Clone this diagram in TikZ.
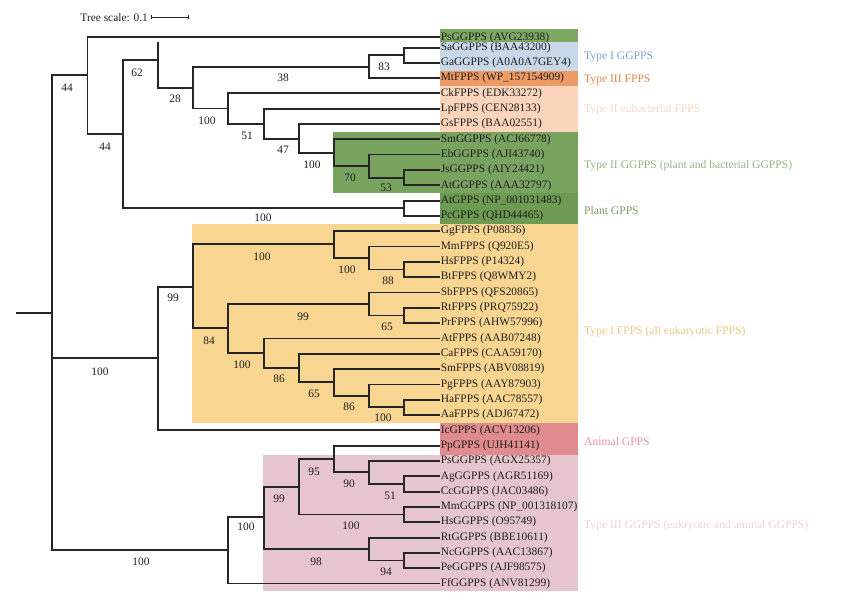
\documentclass[tikz,border=0pt]{standalone}
\usepackage{fontspec}
\setmainfont{Liberation Serif}
\definecolor{treeline}{HTML}{262626}
\definecolor{txt}{HTML}{1E1E1E}
\definecolor{gA}{HTML}{7DA962}
\definecolor{gB}{HTML}{78A45F}
\definecolor{gC}{HTML}{6C9B51}
\definecolor{blu}{HTML}{C9D8E8}
\definecolor{org}{HTML}{EE9A64}
\definecolor{pch}{HTML}{FAD5BC}
\definecolor{yel}{HTML}{F8D692}
\definecolor{red}{HTML}{E08B8D}
\definecolor{pnk}{HTML}{E6C5CE}
\definecolor{lblu}{HTML}{7F9FCF}
\definecolor{lorg}{HTML}{E0854A}
\definecolor{lpch}{HTML}{F8D6C2}
\definecolor{lgB}{HTML}{93B587}
\definecolor{lgC}{HTML}{78A060}
\definecolor{lyel}{HTML}{EDC785}
\definecolor{lred}{HTML}{E2949A}
\definecolor{lpnk}{HTML}{EFD1DA}
\tikzset{
  br/.style={draw=treeline, line width=1.8pt},
  leaf/.style={anchor=west, inner sep=0.6pt, text=txt, font=\fontsize{11.4}{13}\selectfont},
  boot/.style={inner sep=0pt, text=txt, font=\fontsize{11.4}{13}\selectfont},
  grp/.style={anchor=west, inner sep=0pt, font=\fontsize{11.6}{13}\selectfont},
}
\newcommand\lf[3]{\node[leaf] (#1) at (440,#2) {#3};}
\begin{document}
\begin{tikzpicture}[x=1pt,y=-1pt]
\useasboundingbox (0,0) rectangle (846,607);
% background boxes
\fill[gA] (440,29.5) rectangle (578,42);
\fill[blu] (440,42) rectangle (578,71);
\fill[org] (440,71) rectangle (578,86);
\fill[pch] (440,86) rectangle (578,132);
\fill[gB] (333,132) rectangle (578,193);
\fill[gC] (440,193) rectangle (578,224);
\fill[yel] (192,224) rectangle (578,423);
\fill[red] (440,423) rectangle (578,454.5);
\fill[pnk] (263,454.5) rectangle (578,591);
% scale
\node[boot, anchor=east] (scl) at (148,18) {Tree scale: 0.1};
\coordinate (s1) at (151,17);
\coordinate (s2) at (188,17);
\draw[treeline, line width=0.9pt] (s1) -- (s2);
\draw[treeline, line width=0.9pt] ([yshift=-2pt]s1) -- ([yshift=2pt]s1);
\draw[treeline, line width=0.9pt] ([yshift=-2pt]s2) -- ([yshift=2pt]s2);
% leaves
\lf{Ps1}{37.3}{PsGGPPS (AVG23938)}
\lf{Sa}{47.7}{SaGGPPS (BAA43200)}
\lf{Ga}{62.7}{GaGGPPS (A0A0A7GEY4)}
\lf{Mt}{78.0}{MtFPPS (WP\_157154909)}
\lf{Ck}{93.3}{CkFPPS (EDK33272)}
\lf{Lp}{108.7}{LpFPPS (CEN28133)}
\lf{Gs}{124.0}{GsFPPS (BAA02551)}
\lf{SmG}{139.3}{SmGGPPS (ACJ66778)}
\lf{Eb}{154.6}{EbGGPPS (AJI43740)}
\lf{Js}{169.9}{JsGGPPS (AIY24421)}
\lf{AtG}{185.3}{AtGGPPS (AAA32797)}
\lf{AtP}{200.6}{AtGPPS (NP\_001031483)}
\lf{Pc}{215.9}{PcGPPS (QHD44465)}
\lf{Gg}{231.2}{GgFPPS (P08836)}
\lf{MmF}{246.5}{MmFPPS (Q920E5)}
\lf{HsF}{261.9}{HsFPPS (P14324)}
\lf{Bt}{277.2}{BtFPPS (Q8WMY2)}
\lf{Sb}{292.5}{SbFPPS (QFS20865)}
\lf{RtF}{307.8}{RtFPPS (PRQ75922)}
\lf{Pr}{323.1}{PrFPPS (AHW57996)}
\lf{AtF}{338.4}{AtFPPS (AAB07248)}
\lf{Ca}{353.8}{CaFPPS (CAA59170)}
\lf{SmF}{369.1}{SmFPPS (ABV08819)}
\lf{Pg}{384.4}{PgFPPS (AAY87903)}
\lf{Ha}{399.7}{HaFPPS (AAC78557)}
\lf{Aa}{415.0}{AaFPPS (ADJ67472)}
\lf{Ic}{430.3}{IcGPPS (ACV13206)}
\lf{Pp}{445.7}{PpGPPS (UJH41141)}
\lf{Ps2}{461.0}{PsGGPPS (AGX25357)}
\lf{Ag}{476.3}{AgGGPPS (AGR51169)}
\lf{Cc}{491.6}{CcGGPPS (JAC03486)}
\lf{MmG}{506.9}{MmGGPPS (NP\_001318107)}
\lf{HsG}{522.2}{HsGGPPS (O95749)}
\lf{RtG}{537.6}{RtGGPPS (BBE10611)}
\lf{Nc}{552.9}{NcGGPPS (AAC13867)}
\lf{Pe}{568.2}{PeGGPPS (AJF98575)}
\lf{Ff}{583.5}{FfGGPPS (ANV81299)}
% internal nodes
\coordinate (R0) at (16,313);
\coordinate (R) at (52,313);
\coordinate (nT) at (87.5,75);
\coordinate (nA) at (122.7,134);
\coordinate (nB) at (157.7,60);
\coordinate (nBs) at (157.7,42);
\coordinate (nC) at (192.7,88);
\coordinate (nD) at (369.3,66.7);
\coordinate (nSG) at (404.3,55.2);
\coordinate (nE) at (228.3,108.5);
\coordinate (nF) at (263.7,124);
\coordinate (nG) at (299,138.7);
\coordinate (nH) at (334.3,153);
\coordinate (nI) at (369.3,166.2);
\coordinate (nJ) at (404.3,177.6);
\coordinate (nPl) at (404.3,208.2);
\coordinate (nM) at (157.7,358.3);
\coordinate (nFP) at (192.7,286.7);
\coordinate (nK) at (334.3,244.3);
\coordinate (nK2) at (369.3,258.2);
\coordinate (nK3) at (404.3,269.5);
\coordinate (nL) at (228.3,328.3);
\coordinate (nL1) at (369.3,304);
\coordinate (nL1b) at (404.3,315.5);
\coordinate (nL2) at (263.7,353.3);
\coordinate (nL3) at (299,367.7);
\coordinate (nL4) at (334.3,382.3);
\coordinate (nL5) at (369.3,395.7);
\coordinate (nL6) at (404.3,407.3);
\coordinate (nBot) at (228.3,550.3);
\coordinate (nN) at (263.7,517.3);
\coordinate (nO) at (299,486.7);
\coordinate (nQ) at (334.3,459);
\coordinate (nS) at (369.3,472.3);
\coordinate (nS2) at (404.3,484);
\coordinate (nR) at (404.3,514.5);
\coordinate (nP) at (369.3,548.7);
\coordinate (nP2) at (404.3,560.5);
% branches
\draw[br] (R0) -- (R);
\draw[br] (R) |- (nT); \draw[br] (R) |- (nM); \draw[br] (R) |- (nBot);
\draw[br] (nT) |- (Ps1.west); \draw[br] (nT) |- (nA);
\draw[br] (nA) |- (nB); \draw[br] (nA) |- (nPl);
\draw[br] (nB) -- (nBs); \draw[br] (nB) |- (nC);
\draw[br] (nC) |- (nD); \draw[br] (nC) |- (nE);
\draw[br] (nD) |- (nSG); \draw[br] (nD) |- (Mt.west);
\draw[br] (nSG) |- (Sa.west); \draw[br] (nSG) |- (Ga.west);
\draw[br] (nE) |- (Ck.west); \draw[br] (nE) |- (nF);
\draw[br] (nF) |- (Lp.west); \draw[br] (nF) |- (nG);
\draw[br] (nG) |- (Gs.west); \draw[br] (nG) |- (nH);
\draw[br] (nH) |- (SmG.west); \draw[br] (nH) |- (nI);
\draw[br] (nI) |- (Eb.west); \draw[br] (nI) |- (nJ);
\draw[br] (nJ) |- (Js.west); \draw[br] (nJ) |- (AtG.west);
\draw[br] (nPl) |- (AtP.west); \draw[br] (nPl) |- (Pc.west);
\draw[br] (nM) |- (nFP); \draw[br] (nM) |- (Ic.west);
\draw[br] (nFP) |- (nK); \draw[br] (nFP) |- (nL);
\draw[br] (nK) |- (Gg.west); \draw[br] (nK) |- (nK2);
\draw[br] (nK2) |- (MmF.west); \draw[br] (nK2) |- (nK3);
\draw[br] (nK3) |- (HsF.west); \draw[br] (nK3) |- (Bt.west);
\draw[br] (nL) |- (nL1); \draw[br] (nL) |- (nL2);
\draw[br] (nL1) |- (Sb.west); \draw[br] (nL1) |- (nL1b);
\draw[br] (nL1b) |- (RtF.west); \draw[br] (nL1b) |- (Pr.west);
\draw[br] (nL2) |- (AtF.west); \draw[br] (nL2) |- (nL3);
\draw[br] (nL3) |- (Ca.west); \draw[br] (nL3) |- (nL4);
\draw[br] (nL4) |- (SmF.west); \draw[br] (nL4) |- (nL5);
\draw[br] (nL5) |- (Pg.west); \draw[br] (nL5) |- (nL6);
\draw[br] (nL6) |- (Ha.west); \draw[br] (nL6) |- (Aa.west);
\draw[br] (nBot) |- (nN); \draw[br] (nBot) |- (Ff.west);
\draw[br] (nN) |- (nO); \draw[br] (nN) |- (nP);
\draw[br] (nO) |- (nQ); \draw[br] (nO) |- (nR);
\draw[br] (nQ) |- (Pp.west); \draw[br] (nQ) |- (nS);
\draw[br] (nS) |- (Ps2.west); \draw[br] (nS) |- (nS2);
\draw[br] (nS2) |- (Ag.west); \draw[br] (nS2) |- (Cc.west);
\draw[br] (nR) |- (MmG.west); \draw[br] (nR) |- (HsG.west);
\draw[br] (nP) |- (RtG.west); \draw[br] (nP) |- (nP2);
\draw[br] (nP2) |- (Nc.west); \draw[br] (nP2) |- (Pe.west);
% bootstrap values
\node[boot] (b1) at (67,88) {44};
\node[boot] (b2) at (105,147) {44};
\node[boot] (b3) at (137,73) {62};
\node[boot] (b4) at (175,99) {28};
\node[boot] (b5) at (283,78) {38};
\node[boot] (b6) at (384,67) {83};
\node[boot] (b7) at (207,121) {100};
\node[boot] (b8) at (247,136) {51};
\node[boot] (b9) at (283,150) {47};
\node[boot] (b10) at (312,165) {100};
\node[boot] (b11) at (350,178) {70};
\node[boot] (b12) at (386,188) {53};
\node[boot] (b13) at (263,218) {100};
\node[boot] (b14) at (100,372) {100};
\node[boot] (b15) at (173,298) {99};
\node[boot] (b16) at (262,257) {100};
\node[boot] (b17) at (347,270) {100};
\node[boot] (b18) at (388,281) {88};
\node[boot] (b19) at (209,341) {84};
\node[boot] (b20) at (303,317) {99};
\node[boot] (b21) at (387,327) {65};
\node[boot] (b22) at (242,365) {100};
\node[boot] (b23) at (279,379) {86};
\node[boot] (b24) at (314,394) {65};
\node[boot] (b25) at (349,407) {86};
\node[boot] (b26) at (383,418) {100};
\node[boot] (b27) at (314,472) {95};
\node[boot] (b28) at (349,484) {90};
\node[boot] (b29) at (390,496) {51};
\node[boot] (b30) at (279,499) {99};
\node[boot] (b31) at (351,526) {100};
\node[boot] (b32) at (246,527) {100};
\node[boot] (b33) at (316,562) {98};
\node[boot] (b34) at (386,572) {94};
\node[boot] (b35) at (141,562) {100};
% group labels
\node[grp, text=lblu] (g1) at (584,57) {Type I GGPPS};
\node[grp, text=lorg] (g2) at (584,80) {Type III FPPS};
\node[grp, text=lpch] (g3) at (584,110) {Type II eubacterial FPPS};
\node[grp, text=lgB] (g4) at (584,166) {Type II GGPPS (plant and bacterial GGPPS)};
\node[grp, text=lgC] (g5) at (584,211) {Plant GPPS};
\node[grp, text=lyel] (g6) at (584,332) {Type I FPPS (all eukaryotic FPPS)};
\node[grp, text=lred] (g7) at (584,442) {Animal GPPS};
\node[grp, text=lpnk] (g8) at (584,526) {Type III GGPPS (eukryotic and animal GGPPS)};
\end{tikzpicture}
\end{document}
